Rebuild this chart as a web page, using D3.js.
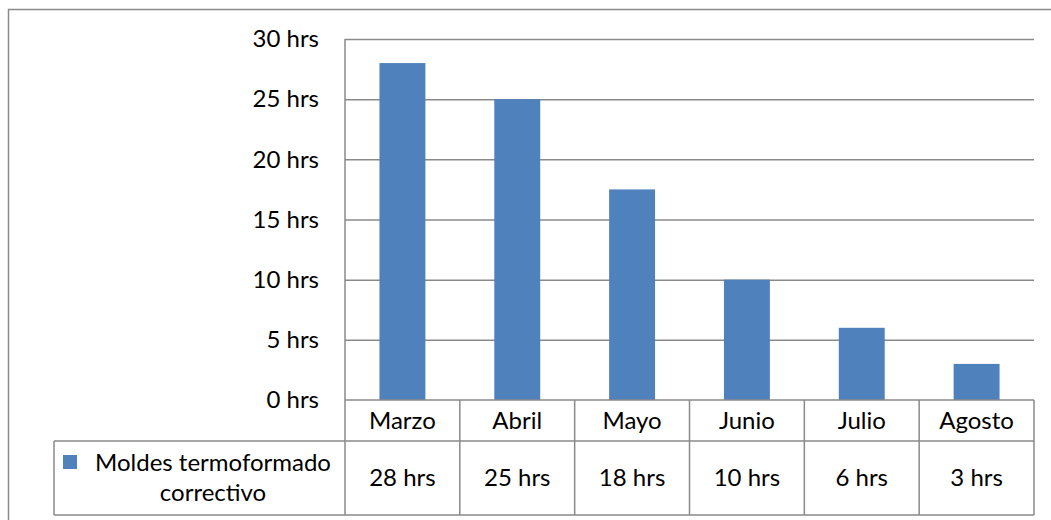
<!DOCTYPE html>
<html>
<head>
<meta charset="utf-8">
<script src="https://cdn.jsdelivr.net/npm/d3@7"></script>
<style>
  html, body { margin: 0; padding: 0; background: #fff; }
  svg { display: block; }
  text { font-family: Lato, "Open Sans", sans-serif; fill: #000; }
</style>
</head>
<body>
<svg id="chart" width="1051" height="520"></svg>
<script>
// Monthly corrective maintenance hours for thermoforming moulds
const categories = ["Marzo", "Abril", "Mayo", "Junio", "Julio", "Agosto"];
const hours = [28, 25, 17.5, 10, 6, 3];
const seriesName = ["Moldes termoformado", "correctivo"];
const yTicks = [0, 5, 10, 15, 20, 25, 30];

const svg = d3.select("#chart");
const W = 1051, H = 520;
const plot = { left: 345, right: 1034, top: 39, bottom: 400 };
const table = { left: 54, headerBottom: 441, bottom: 515 };
const barColor = "#4F81BD";
const lineColor = "#8a8a8a";
const fontSize = 24;

const x = d3.scaleBand().domain(categories).range([plot.left, plot.right]).paddingInner(0).paddingOuter(0);
const y = d3.scaleLinear().domain([0, 30]).range([plot.bottom, plot.top]);
const fmt = v => `${d3.format(".0f")(v)} hrs`;

// chart frame
svg.append("rect")
  .attr("x", 8.5).attr("y", 9.5)
  .attr("width", W + 10).attr("height", H + 10)
  .attr("fill", "none").attr("stroke", lineColor).attr("stroke-width", 1.5);

// horizontal gridlines
const grid = svg.append("g")
  .attr("transform", `translate(${plot.left},0)`)
  .call(d3.axisLeft(y).tickValues(yTicks.filter(t => t > 0)).tickSize(-(plot.right - plot.left)).tickFormat(""));
grid.select(".domain").remove();
grid.selectAll(".tick line").attr("stroke", lineColor).attr("stroke-width", 1.5);

// bars
const barW = x.bandwidth() * 0.4;
svg.append("g").selectAll("rect")
  .data(hours)
  .join("rect")
  .attr("x", (d, i) => x(categories[i]) + (x.bandwidth() - barW) / 2)
  .attr("y", d => y(d))
  .attr("width", barW)
  .attr("height", d => y(0) - y(d))
  .attr("fill", barColor);

// value axis labels
const yAxis = svg.append("g")
  .attr("transform", `translate(${plot.left},0)`)
  .call(d3.axisLeft(y).tickValues(yTicks).tickSize(0).tickPadding(26).tickFormat(d => `${d} hrs`));
yAxis.select(".domain").remove();
yAxis.selectAll(".tick text")
  .attr("font-family", "Lato, 'Open Sans', sans-serif")
  .attr("font-size", fontSize)
  .attr("fill", "#000");

// data table lines
const tbl = svg.append("g").attr("stroke", lineColor).attr("stroke-width", 1.5).attr("fill", "none");
// vertical axis line running through the table
tbl.append("line").attr("x1", plot.left).attr("x2", plot.left).attr("y1", plot.top).attr("y2", table.bottom);
// top of table (category axis)
tbl.append("line").attr("x1", plot.left).attr("x2", plot.right).attr("y1", plot.bottom).attr("y2", plot.bottom);
// row separators
tbl.append("line").attr("x1", table.left).attr("x2", plot.right).attr("y1", table.headerBottom).attr("y2", table.headerBottom);
tbl.append("line").attr("x1", table.left).attr("x2", plot.right).attr("y1", table.bottom).attr("y2", table.bottom);
// legend cell left edge
tbl.append("line").attr("x1", table.left).attr("x2", table.left).attr("y1", table.headerBottom).attr("y2", table.bottom);
// column separators
tbl.selectAll(".col").data(categories).join("line")
  .attr("class", "col")
  .attr("x1", d => x(d) + x.bandwidth()).attr("x2", d => x(d) + x.bandwidth())
  .attr("y1", plot.bottom).attr("y2", table.bottom);

// category headers
svg.append("g").selectAll("text").data(categories).join("text")
  .attr("x", d => x(d) + x.bandwidth() / 2)
  .attr("y", (plot.bottom + table.headerBottom) / 2)
  .attr("dy", "0.35em")
  .attr("text-anchor", "middle")
  .attr("font-size", fontSize)
  .text(d => d);

// values row
svg.append("g").selectAll("text").data(hours).join("text")
  .attr("x", (d, i) => x(categories[i]) + x.bandwidth() / 2)
  .attr("y", (table.headerBottom + table.bottom) / 2)
  .attr("dy", "0.35em")
  .attr("text-anchor", "middle")
  .attr("font-size", fontSize)
  .text(d => fmt(d));

// legend key and series name
svg.append("rect")
  .attr("x", 63).attr("y", 455).attr("width", 14).attr("height", 14)
  .attr("fill", barColor);
const legendCx = 213;
svg.append("g").selectAll("text").data(seriesName).join("text")
  .attr("x", legendCx)
  .attr("y", (d, i) => 463 + i * 30)
  .attr("dy", "0.35em")
  .attr("text-anchor", "middle")
  .attr("font-size", fontSize)
  .text(d => d);
</script>
</body>
</html>
